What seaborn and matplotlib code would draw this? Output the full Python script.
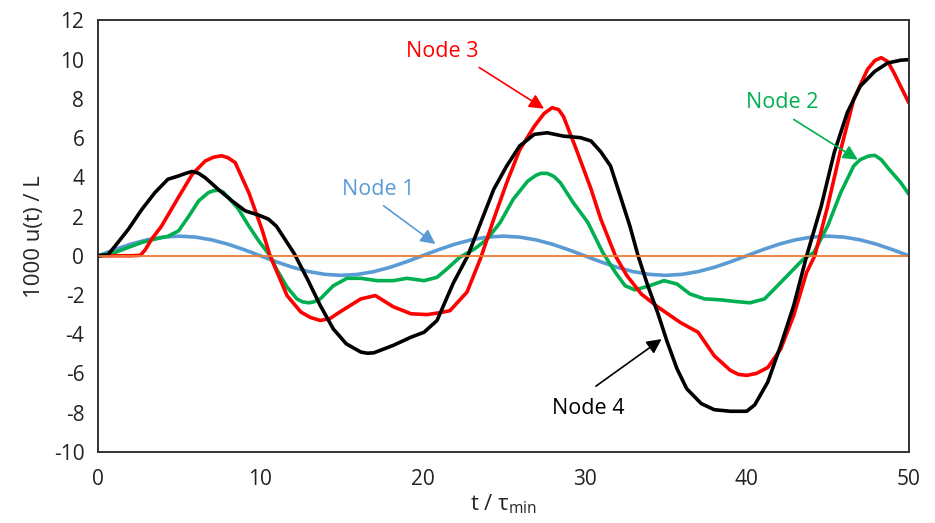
import pandas as pd
import matplotlib.pyplot as plt
import seaborn as sns

# -----------------------------
# Data
# -----------------------------
t_node1 = list(range(0, 51))
u_node1 = [0.00, 0.31, 0.59, 0.81, 0.95, 1.00, 0.95, 0.81, 0.59, 0.31,
           0.00, -0.31, -0.59, -0.81, -0.95, -1.00, -0.95, -0.81, -0.59, -0.31,
           0.00, 0.31, 0.59, 0.81, 0.95, 1.00, 0.95, 0.81, 0.59, 0.31,
           0.00, -0.31, -0.59, -0.81, -0.95, -1.00, -0.95, -0.81, -0.59, -0.31,
           0.00, 0.31, 0.59, 0.81, 0.95, 1.00, 0.95, 0.81, 0.59, 0.31, 0.00]

t_node2 = [0, 1.05, 1.87, 2.7, 3.5, 4.3, 4.96, 5.6, 6.2, 6.8, 7.1, 7.4, 7.7, 8.04, 8.66,
           9.28, 9.9, 10.6, 11.0, 11.65, 12.26, 12.6, 13.0, 13.3, 13.7, 14.5, 15.35,
           16.2, 17.2, 18.2, 19.05, 20.1, 20.9, 21.5, 22.3, 23.2, 24.0, 24.8, 25.6,
           26.5, 27.0, 27.3, 27.7, 28.1, 28.5, 29.3, 30.2, 31.1, 31.9, 32.5, 33.1,
           33.9, 34.9, 35.7, 36.5, 37.4, 38.4, 39.4, 40.2, 41.1, 41.9, 42.7, 43.5,
           44.15, 45.0, 45.8, 46.6, 47.0, 47.5, 47.9, 48.3, 48.7, 49.5, 50]
u_node2 = [0, 0.17, 0.43, 0.68, 0.85, 0.99, 1.27, 2.03, 2.8, 3.22, 3.31, 3.34, 3.25, 2.97, 2.37,
           1.53, 0.76, 0.0, -0.68, -1.6, -2.2, -2.35, -2.4, -2.35, -2.2, -1.53, -1.15,
           -1.15, -1.27, -1.27, -1.15, -1.27, -1.1, -0.68, -0.08, 0.34, 0.85, 1.7, 2.88,
           3.81, 4.1, 4.2, 4.2, 4.05, 3.73, 2.71, 1.7, 0.2, -0.85, -1.53, -1.74,
           -1.56, -1.27, -1.44, -1.95, -2.2, -2.25, -2.34, -2.4, -2.2, -1.53, -0.85, -0.17,
           0.17, 1.53, 3.22, 4.58, 4.9, 5.08, 5.12, 4.9, 4.49, 3.73, 3.14]

t_node3 = [0, 1, 2, 2.6, 2.9, 3.3, 3.9, 5.0, 5.8, 6.6, 7.1, 7.6, 8.0, 8.45, 9.3, 10.1,
           10.6, 11.65, 12.5, 13.1, 13.7, 14.3, 14.9, 16.2, 17.1, 18.2, 19.3, 20.3,
           21.1, 21.7, 22.75, 23.6, 24.4, 25.2, 26.0, 26.9, 27.5, 28.0, 28.4, 28.7,
           29.5, 30.4, 31.0, 31.9, 32.6, 33.5, 34.5, 35.9, 37.0, 38.0, 39.0, 39.5,
           40.0, 40.6, 41.3, 42.1, 42.9, 43.7, 44.2, 45.0, 45.8, 46.6, 47.45, 47.9,
           48.3, 48.7, 49.1, 50]
u_node3 = [0, 0, 0, 0.02, 0.3, 0.85, 1.5, 3.05, 4.15, 4.83, 5.02, 5.1, 5.0, 4.75, 3.2, 1.35,
           0.0, -2.03, -2.87, -3.15, -3.3, -3.2, -2.87, -2.2, -2.03, -2.6, -2.96, -3.0,
           -2.9, -2.8, -1.85, -0.1, 1.87, 3.73, 5.4, 6.6, 7.25, 7.55, 7.45, 7.1,
           5.4, 3.4, 1.87, 0.0, -1.0, -1.95, -2.6, -3.4, -3.9, -5.1, -5.85, -6.05,
           -6.1, -6.0, -5.7, -4.75, -3.05, -0.84, 0.0, 2.54, 5.4, 7.97, 9.5, 9.95,
           10.1, 9.9, 9.3, 7.8]

t_node4 = [0, 0.6, 1.05, 1.87, 2.7, 3.5, 4.3, 4.96, 5.4, 5.8, 6.2, 6.6, 7.4, 8.25, 9.07,
           9.9, 10.5, 11.0, 12.1, 12.9, 13.7, 14.5, 15.3, 16.2, 16.6, 17.0, 18.2, 19.3,
           20.1, 20.9, 21.9, 22.8, 23.6, 24.4, 25.2, 26.0, 26.9, 27.7, 28.7, 29.75,
           30.4, 31.0, 31.6, 32.2, 32.8, 33.3, 33.9, 34.5, 35.1, 35.7, 36.3, 37.2,
           38.0, 39.0, 40.0, 40.5, 41.3, 42.1, 42.9, 43.7, 44.6, 45.4, 46.2, 47.0,
           47.9, 48.7, 49.5, 50]
u_node4 = [0, 0.05, 0.5, 1.36, 2.37, 3.22, 3.9, 4.07, 4.2, 4.3, 4.2, 3.98, 3.39, 2.8, 2.29,
           2.07, 1.87, 1.5, 0.1, -1.18, -2.54, -3.73, -4.49, -4.91, -4.97, -4.95, -4.57, -4.15,
           -3.9, -3.3, -1.4, 0.0, 1.7, 3.39, 4.58, 5.6, 6.19, 6.27, 6.1, 6.02,
           5.85, 5.3, 4.58, 3.05, 1.5, 0.0, -1.53, -2.88, -4.4, -5.76, -6.78, -7.54,
           -7.85, -7.93, -7.93, -7.6, -6.44, -4.57, -2.54, 0.0, 2.54, 5.26, 7.29, 8.64,
           9.4, 9.83, 9.97, 10.0]

t_zero = [0, 50]
u_zero = [0, 0]

node_names = ["Node 1", "Node 2", "Node 3", "Node 4"]
node_colors = ["#5B9BD5", "#00B050", "#FF0000", "#000000"]

df = pd.concat([
    pd.DataFrame({"t": t_node1, "u": u_node1, "Node": "Node 1"}),
    pd.DataFrame({"t": t_node2, "u": u_node2, "Node": "Node 2"}),
    pd.DataFrame({"t": t_node3, "u": u_node3, "Node": "Node 3"}),
    pd.DataFrame({"t": t_node4, "u": u_node4, "Node": "Node 4"}),
], ignore_index=True)

# -----------------------------
# Style
# -----------------------------
sns.set_theme(style="white")
plt.rcParams['font.family'] = ['Open Sans', 'DejaVu Sans']
plt.rcParams['mathtext.default'] = 'regular'
plt.rcParams['axes.unicode_minus'] = False

fig = plt.figure(figsize=(9.35, 5.23), dpi=100)
ax = fig.add_axes([0.105, 0.136, 0.867, 0.825])

sns.lineplot(data=df, x="t", y="u", hue="Node", hue_order=node_names,
             palette=node_colors, estimator=None, sort=False, linewidth=2.6,
             legend=False, ax=ax, solid_joinstyle="round", solid_capstyle="round")
sns.lineplot(x=t_zero, y=u_zero, color="#ED7D31", linewidth=1.3, ax=ax)

ax.set_xlim(0, 50)
ax.set_ylim(-10, 12)
ax.set_xticks(range(0, 51, 10))
ax.set_yticks(range(-10, 13, 2))
ax.tick_params(axis="both", length=0, labelsize=15, colors="#222222")
ax.tick_params(axis="x", pad=12)
ax.tick_params(axis="y", pad=10)
for s in ax.spines.values():
    s.set_visible(True)
    s.set_color("#333333")
    s.set_linewidth(1.4)

ax.set_xlabel("t / τ$_{min}$", fontsize=16, labelpad=2)
ax.set_ylabel("1000 u(t) / L", fontsize=16, labelpad=6)

# -----------------------------
# Annotations
# -----------------------------
labels = [("Node 1", (17.3, 3.4), (17.6, 2.55), (20.8, 0.6), node_colors[0]),
          ("Node 3", (21.2, 10.4), (23.5, 9.6), (27.5, 7.5), node_colors[2]),
          ("Node 2", (42.2, 7.8), (42.9, 6.95), (46.85, 4.9), node_colors[1]),
          ("Node 4", (30.2, -7.8), (30.7, -6.65), (34.75, -4.25), node_colors[3])]
for text, txy, tail, head, c in labels:
    ax.text(txy[0], txy[1], text, color=c, fontsize=15.5, ha="center", va="center")
    ax.annotate("", xy=head, xytext=tail,
                arrowprops=dict(arrowstyle="-|>", color=c, lw=1.2,
                                mutation_scale=22, shrinkA=0, shrinkB=0))

fig.savefig("out.png", dpi=100)
